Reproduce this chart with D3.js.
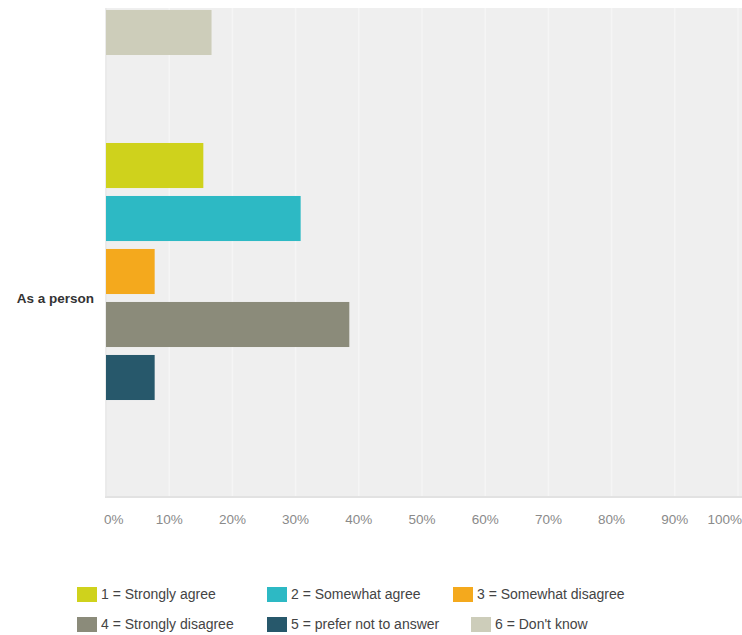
<!DOCTYPE html>
<html>
<head>
<meta charset="utf-8">
<script src="https://cdn.jsdelivr.net/npm/d3@7"></script>
<style>
  body { margin: 0; background: #fff; }
  svg { display: block; font-family: "Liberation Sans", Arial, sans-serif; }
</style>
</head>
<body>
<svg id="chart" width="742" height="635"></svg>
<script>
// Answer categories (legend order) and their colours
const answers = [
  "1 = Strongly agree",
  "2 = Somewhat agree",
  "3 = Somewhat disagree",
  "4 = Strongly disagree",
  "5 = prefer not to answer",
  "6 = Don't know"
];
const answerColors = ["#cfd21c", "#2db9c4", "#f4a91d", "#8b8b7a", "#27586b", "#cdcdba"];

// Row groups: the first one is cut off at the top of the picture
const groups = ["", "As a person"];

// Percentages per group (null = off the visible area)
const prevGroupValues = [null, null, null, null, null, 16.7];
const personValues    = [15.4, 30.8, 7.7, 38.5, 7.7, 0];

const xTicks = [0, 10, 20, 30, 40, 50, 60, 70, 80, 90, 100];

// Layout
const svg = d3.select("#chart");
const W = 742;
const plot = { left: 106, right: 738, top: 8, bottom: 497 };
const groupStep = 398;

const x = d3.scaleLinear().domain([0, 100]).range([plot.left, plot.right]);

const y0 = d3.scaleBand()
  .domain(groups)
  .range([plot.bottom - groupStep * groups.length, plot.bottom])
  .padding(0);

const y1 = d3.scaleBand()
  .domain(answers)
  .range([0, y0.bandwidth()])
  .paddingInner(0.15)
  .paddingOuter(0.83);

// Plot background
svg.append("rect")
  .attr("x", plot.left - 1)
  .attr("y", plot.top)
  .attr("width", W - plot.left + 1)
  .attr("height", plot.bottom - plot.top)
  .attr("fill", "#efefef");

// Vertical gridlines (very faint)
svg.append("g")
  .selectAll("line")
  .data(xTicks.slice(1))
  .join("line")
    .attr("x1", d => x(d))
    .attr("x2", d => x(d))
    .attr("y1", plot.top)
    .attr("y2", plot.bottom)
    .attr("stroke", "#f5f5f5")
    .attr("stroke-width", 1.5);

// Bottom and left border of the plot
svg.append("line")
  .attr("x1", plot.left - 1).attr("x2", W)
  .attr("y1", plot.bottom).attr("y2", plot.bottom)
  .attr("stroke", "#e2e2e2").attr("stroke-width", 2);
svg.append("line")
  .attr("x1", plot.left).attr("x2", plot.left)
  .attr("y1", plot.top).attr("y2", plot.bottom)
  .attr("stroke", "#e6e6e6").attr("stroke-width", 1);

// Clip bars to the plot area
svg.append("clipPath").attr("id", "plotClip")
  .append("rect")
    .attr("x", 0).attr("y", plot.top)
    .attr("width", W).attr("height", plot.bottom - plot.top);

const rows = [
  { group: groups[0], values: prevGroupValues },
  { group: groups[1], values: personValues }
];

const barsG = svg.append("g").attr("clip-path", "url(#plotClip)");

rows.forEach(row => {
  const g = barsG.append("g")
    .attr("transform", `translate(0,${y0(row.group)})`);
  const data = answers
    .map((a, i) => ({ answer: a, value: row.values[i], color: answerColors[i] }))
    .filter(d => d.value != null && d.value > 0);

  g.selectAll("rect")
    .data(data)
    .join("rect")
      .attr("x", x(0))
      .attr("y", d => y1(d.answer))
      .attr("width", d => x(d.value) - x(0))
      .attr("height", y1.bandwidth())
      .attr("fill", d => d.color);

  // Group label, centred on the group band
  if (row.group) {
    svg.append("text")
      .attr("x", plot.left - 12)
      .attr("y", y0(row.group) + y0.bandwidth() / 2)
      .attr("dy", "0.35em")
      .attr("text-anchor", "end")
      .attr("font-size", 13.5)
      .attr("font-weight", "bold")
      .attr("fill", "#333")
      .text(row.group);
  }
});

// X tick labels
svg.append("g")
  .selectAll("text")
  .data(xTicks)
  .join("text")
    .attr("x", (d, i) => i === 0 ? x(d) - 2 : i === xTicks.length - 1 ? W : x(d))
    .attr("y", 524)
    .attr("text-anchor", (d, i) => i === 0 ? "start" : i === xTicks.length - 1 ? "end" : "middle")
    .attr("font-size", 13.5)
    .attr("fill", "#8a8a8a")
    .text(d => d + "%");

// Legend (two rows of three)
const legendX = [[77, 267, 453], [77, 267, 471]];
const legendY = [587, 617];

const legend = svg.append("g")
  .selectAll("g")
  .data(answers)
  .join("g")
    .attr("transform", (d, i) => {
      const r = Math.floor(i / 3), c = i % 3;
      return `translate(${legendX[r][c]},${legendY[r]})`;
    });

legend.append("rect")
  .attr("width", 20)
  .attr("height", 15)
  .attr("fill", (d, i) => answerColors[i]);

legend.append("text")
  .attr("x", 24)
  .attr("y", 12)
  .attr("font-size", 14)
  .attr("fill", "#444")
  .text(d => d);
</script>
</body>
</html>
